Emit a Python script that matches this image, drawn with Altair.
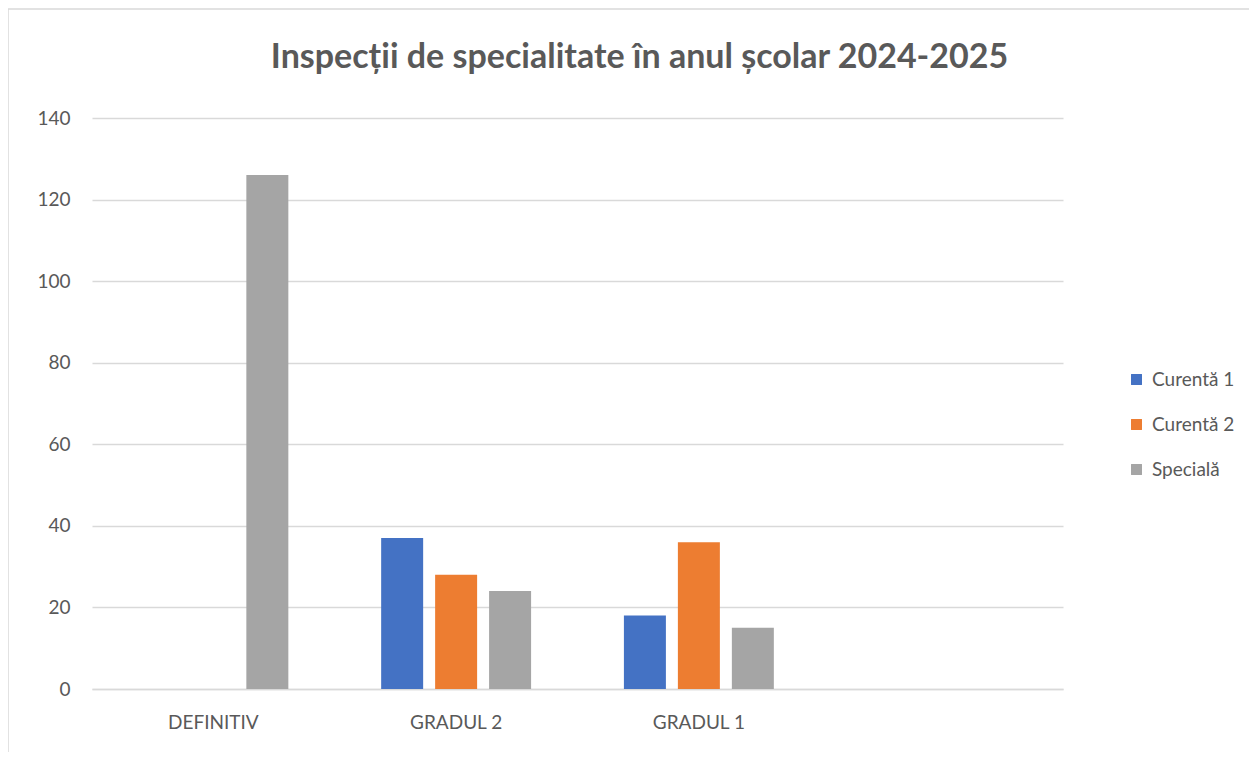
import altair as alt
import pandas as pd

categories = ["DEFINITIV", "GRADUL 2", "GRADUL 1", " "]
series = ["Curentă 1", "Curentă 2", "Specială"]
curenta1 = [0, 37, 18]
curenta2 = [0, 28, 36]
speciala = [126, 24, 15]
colors = ["#4472C4", "#ED7D31", "#A5A5A5"]
y_ticks = [0, 20, 40, 60, 80, 100, 120, 140]

rows = []
for i, cat in enumerate(categories[:3]):
    for s, vals in zip(series, [curenta1, curenta2, speciala]):
        rows.append({"cat": cat, "serie": s, "val": vals[i]})
df = pd.DataFrame(rows)

FONT = "Lato"
TXT = "#595959"
W, H = 971, 571
PL, PT, PR, PB = 84, 110, 186, 63

bars = alt.Chart(df).mark_bar().encode(
    x=alt.X("cat:N", sort=categories,
            scale=alt.Scale(domain=categories, paddingInner=0.333, paddingOuter=0.1665),
            axis=alt.Axis(title=None, labelAngle=0, ticks=False, domain=True,
                          domainColor="#D9D9D9", domainWidth=1.5,
                          labelFont=FONT, labelFontSize=19, labelColor=TXT,
                          labelPadding=24)),
    xOffset=alt.XOffset("serie:N", sort=series,
                        scale=alt.Scale(domain=series, paddingInner=0.222, paddingOuter=0.111)),
    y=alt.Y("val:Q", scale=alt.Scale(domain=[0, 140], nice=False),
            axis=alt.Axis(title=None, values=y_ticks, ticks=False, domain=False,
                          grid=True, gridColor="#D9D9D9", gridWidth=1.5,
                          labelFont=FONT, labelFontSize=19, labelColor=TXT,
                          labelPadding=22)),
    color=alt.Color("serie:N", sort=series,
                    scale=alt.Scale(domain=series, range=colors),
                    legend=alt.Legend(title=None, orient="none", legendX=1035, legendY=252,
                                      symbolType="square", symbolSize=120, symbolStrokeWidth=0,
                                      labelFont=FONT, labelFontSize=19, labelColor=TXT,
                                      rowPadding=25, symbolOffset=0, labelOffset=6)),
)

border = alt.Chart(pd.DataFrame({"b": [0]})).mark_rect(
    fill="white", fillOpacity=0, stroke="#D9D9D9", strokeWidth=1.5
).encode(
    x=alt.value(-PL), x2=alt.value(W + PR + 20),
    y=alt.value(-PT + 1), y2=alt.value(H + PB + 20),
)

chart = alt.layer(border, bars).properties(
    width=W, height=H,
    title=alt.Title("Inspecții de specialitate în anul școlar 2024-2025",
                    font=FONT, fontSize=34, fontWeight="bold", color=TXT,
                    anchor="middle", dx=62, offset=0, dy=67),
    autosize=alt.AutoSizeParams(type="none"),
    padding={"left": PL, "top": PT, "right": PR, "bottom": PB},
).configure(background="white").configure_view(stroke=None)

chart.save("out.html", embed_options={"renderer": "svg", "actions": False})
